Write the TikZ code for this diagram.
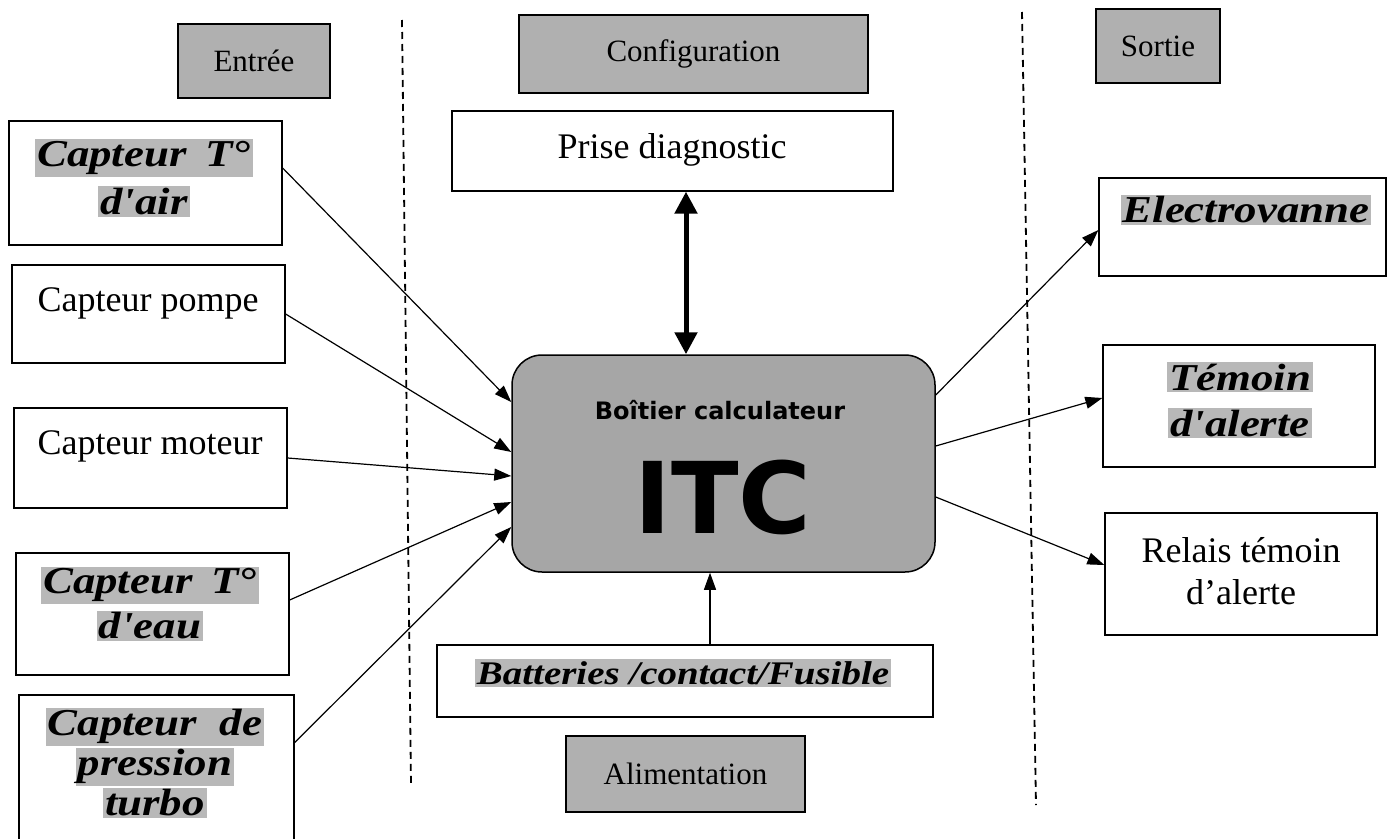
\documentclass[tikz,border=0pt]{standalone}
\usepackage{fontspec}
\setmainfont{Liberation Serif}
\newfontfamily\cursfont{Liberation Serif}[FakeStretch=1.18]
\newfontfamily\comicfont{DejaVu Sans}
\usetikzlibrary{arrows.meta}
\definecolor{lblgray}{RGB}{176,176,176}
\definecolor{itcgray}{RGB}{166,166,166}
\definecolor{hlgray}{RGB}{184,184,184}
\newcommand{\hlt}[1]{{\setlength{\fboxsep}{2pt}\colorbox{hlgray}{#1}}}
\tikzset{
  bx/.style={draw, line width=1.3pt, inner sep=0pt, fill=white},
  lbl/.style={draw, line width=1.3pt, fill=lblgray, inner sep=0pt, font=\fontsize{31}{36}\selectfont},
  plain/.style={inner sep=0pt, align=center, font=\fontsize{36}{42}\selectfont},
  curs/.style={inner sep=0pt, align=center, font=\cursfont\bfseries\itshape\fontsize{38}{#1}\selectfont},
  curs/.default=46,
  conn/.style={line width=1.2pt, -{Triangle[length=17pt,width=12pt]}},
  dbl/.style={line width=5pt, {Triangle[length=22pt,width=22pt]}-{Triangle[length=22pt,width=22pt]}},
  sep/.style={line width=1.8pt, dash pattern=on 7pt off 5pt}
}
\begin{document}
\begin{tikzpicture}[x=1pt,y=-1pt]
\clip (0,0) rectangle (1389,838);
\fill[white] (0,0) rectangle (1389,838);
% separators
\draw[sep] (402,20) -- (411,785);
\draw[sep] (1022,12) -- (1036,805);
% section labels
\node[lbl, minimum width=152, minimum height=74] (lin) at (254,61) {Entrée};
\node[lbl, minimum width=349, minimum height=78] (lcfg) at (693.5,54) {Configuration};
\node[lbl, minimum width=124, minimum height=74] (lout) at (1158,46) {Sortie};
\node[lbl, minimum width=239, minimum height=76] (lali) at (685.5,774) {Alimentation};
% input boxes
\node[bx, minimum width=273, minimum height=124] (air) at (145.5,183) {};
\node[bx, minimum width=273, minimum height=98] (pompe) at (148.5,314) {};
\node[bx, minimum width=273, minimum height=100] (moteur) at (150.5,458) {};
\node[bx, minimum width=273, minimum height=122] (eau) at (152.5,614) {};
\node[bx, minimum width=275, minimum height=155] (pression) at (156.5,772.5) {};
\node[curs=48] (tair) at (144,178) {\hlt{Capteur\hspace{0.5em}T°}\\\hlt{d'air}};
\node[plain] (tpompe) at (148,303) {Capteur pompe};
\node[plain] (tmoteur) at (150,446) {Capteur moteur};
\node[curs=45] (teau) at (150,604) {\hlt{Capteur\hspace{0.5em}T°}\\\hlt{d'eau}};
\node[curs=40] (tpress) at (155,763) {\hlt{Capteur\hspace{0.6em}de}\\\hlt{pression}\\\hlt{turbo}};
% centre
\node[bx, minimum width=441, minimum height=80] (diag) at (672.5,151) {};
\node[plain] (tdiag) at (672,150) {Prise diagnostic};
\node[draw, line width=1.5pt, fill=itcgray, rounded corners=30pt, minimum width=423, minimum height=217, inner sep=0pt] (itc) at (723.5,463.5) {};
\node[inner sep=0pt, font=\comicfont\bfseries\fontsize{24}{26}\selectfont] (tboit) at (720,410) {Boîtier calculateur};
\node[inner sep=0pt, font=\comicfont\bfseries\fontsize{99}{110}\selectfont] (titc) at (723,497) {ITC};
\node[bx, minimum width=496, minimum height=72] (batt) at (685,681) {};
\node[inner sep=0pt, font=\cursfont\bfseries\itshape\fontsize{33}{40}\selectfont] (tbatt) at (683,673) {\hlt{Batteries /contact/Fusible}};
% output boxes
\node[bx, minimum width=287, minimum height=98] (elec) at (1242.5,227) {};
\node[bx, minimum width=272, minimum height=122] (temoin) at (1239,406) {};
\node[bx, minimum width=272, minimum height=122] (relais) at (1241,574) {};
\node[curs] (telec) at (1246,210) {\hlt{Electrovanne}};
\node[curs=46] (ttem) at (1240,400) {\hlt{Témoin}\\\hlt{d'alerte}};
\node[plain] (trel) at (1241,571) {Relais témoin\\d’alerte};
% connectors
\draw[conn] ([yshift=15pt]air.east) -- ([yshift=61.5pt]itc.west);
\draw[conn] (pompe.east) -- ([yshift=11.5pt]itc.west);
\draw[conn] (moteur.east) -- ([yshift=-12.5pt]itc.west);
\draw[conn] ([yshift=14pt]eau.east) -- ([yshift=-38.5pt]itc.west);
\draw[conn] ([yshift=30pt]pression.east) -- ([yshift=-63.5pt]itc.west);
\draw[conn] ([yshift=68.5pt]itc.east) -- ([yshift=-3pt]elec.west);
\draw[conn] ([yshift=17.5pt]itc.east) -- ([yshift=8pt]temoin.west);
\draw[conn] ([yshift=-33.5pt]itc.east) -- ([yshift=9pt]relais.west);
\draw[dbl] ([xshift=13.5pt]diag.south) -- ([xshift=-37.5pt]itc.north);
\draw[conn] ([xshift=25pt]batt.north) -- ([xshift=-13.5pt]itc.south);
\end{tikzpicture}
\end{document}
